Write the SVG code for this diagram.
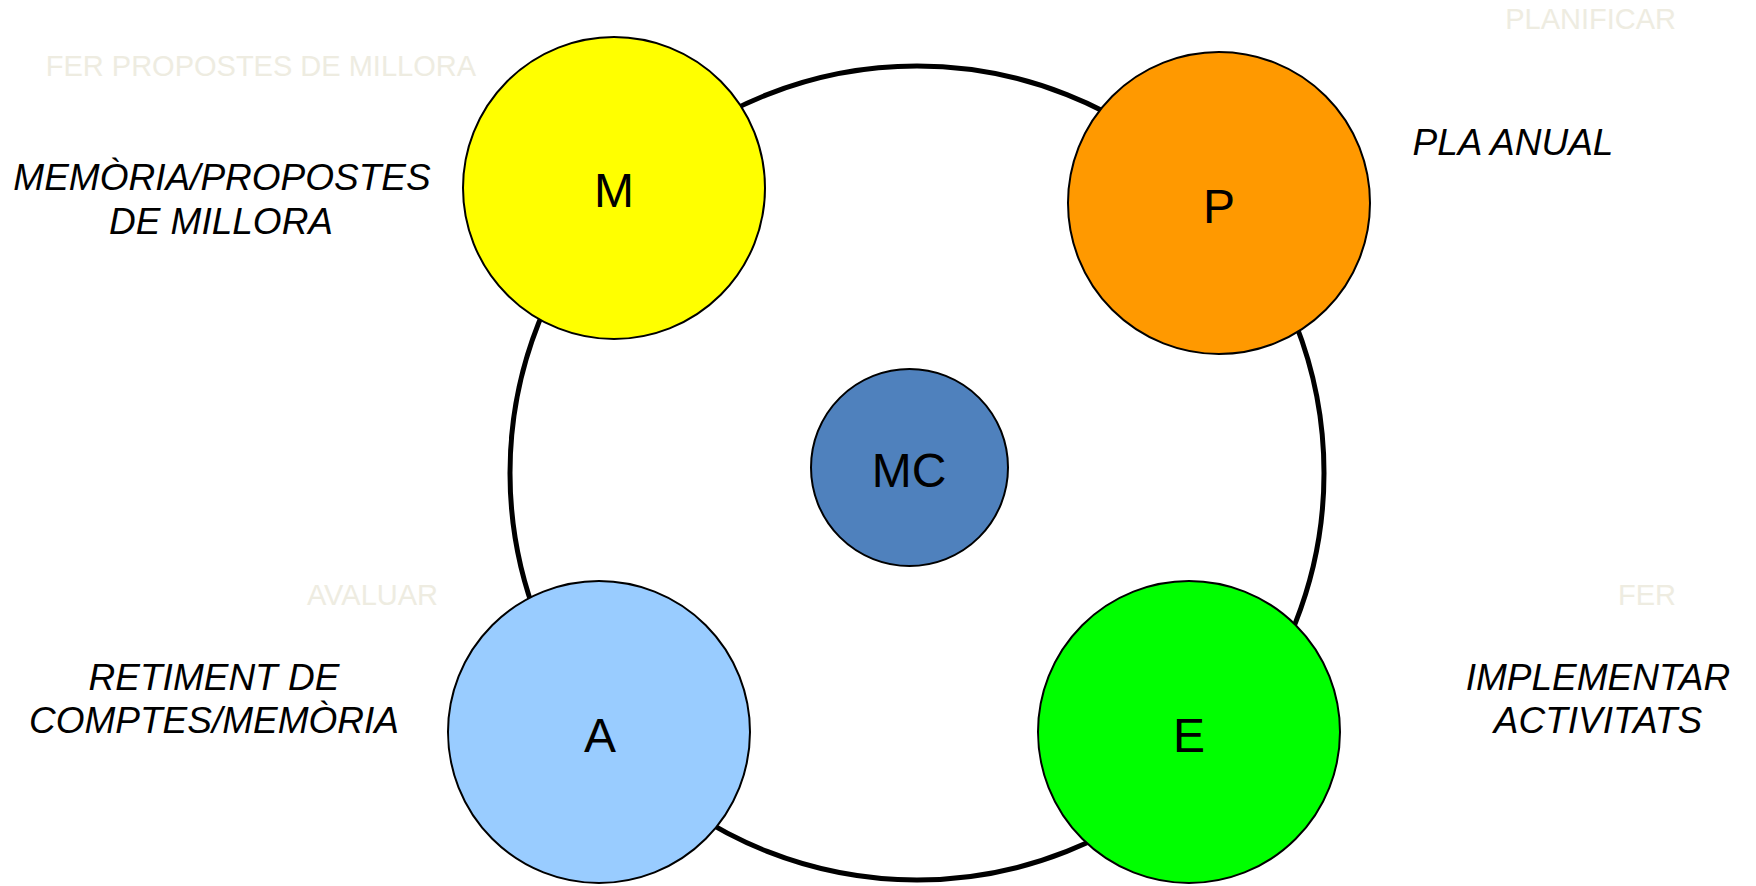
<svg xmlns="http://www.w3.org/2000/svg" width="1756" height="886" viewBox="0 0 1756 886">
  <style>
    .node { stroke: #000; stroke-width: 2; }
    .letter { font-family: "Liberation Sans", Arial, sans-serif; font-size: 48px; fill: #000; text-anchor: middle; }
    .label { font-family: "Liberation Sans", Arial, sans-serif; font-size: 37px; font-style: italic; fill: #000; text-anchor: middle; }
    .faint { font-family: "Liberation Sans", Arial, sans-serif; font-size: 29px; fill: #eeece1; text-anchor: end; }
  </style>
  <rect width="1756" height="886" fill="#fff"/>
  <g id="connectors">
    <circle cx="917" cy="473" r="407" fill="none" stroke="#000" stroke-width="5"/>
  </g>
  <g id="node-M">
    <circle class="node" cx="614" cy="188" r="151" fill="#ffff00"/>
    <text class="letter" x="614" y="207">M</text>
  </g>
  <g id="node-P">
    <circle class="node" cx="1219" cy="203" r="151" fill="#ff9900"/>
    <text class="letter" x="1219" y="223">P</text>
  </g>
  <g id="node-A">
    <circle class="node" cx="599" cy="732" r="151" fill="#99ccff"/>
    <text class="letter" x="600" y="752">A</text>
  </g>
  <g id="node-E">
    <circle class="node" cx="1189" cy="732" r="151" fill="#00ff00"/>
    <text class="letter" x="1189" y="752">E</text>
  </g>
  <g id="node-MC">
    <circle class="node" cx="909.5" cy="467.5" r="98.5" fill="#4f81bd"/>
    <text class="letter" x="909" y="487">MC</text>
  </g>
  <g id="labels">
    <text class="label" x="222" y="190">MEMÒRIA/PROPOSTES</text>
    <text class="label" x="221" y="234">DE MILLORA</text>
    <text class="label" x="1513" y="155">PLA ANUAL</text>
    <text class="label" x="214" y="690">RETIMENT DE</text>
    <text class="label" x="214" y="733">COMPTES/MEMÒRIA</text>
    <text class="label" x="1598" y="690">IMPLEMENTAR</text>
    <text class="label" x="1598" y="733">ACTIVITATS</text>
  </g>
  <g id="faint-labels">
    <text class="faint" x="476" y="76">FER PROPOSTES DE MILLORA</text>
    <text class="faint" x="1676" y="29">PLANIFICAR</text>
    <text class="faint" x="438" y="605">AVALUAR</text>
    <text class="faint" x="1676" y="605">FER</text>
  </g>
</svg>
